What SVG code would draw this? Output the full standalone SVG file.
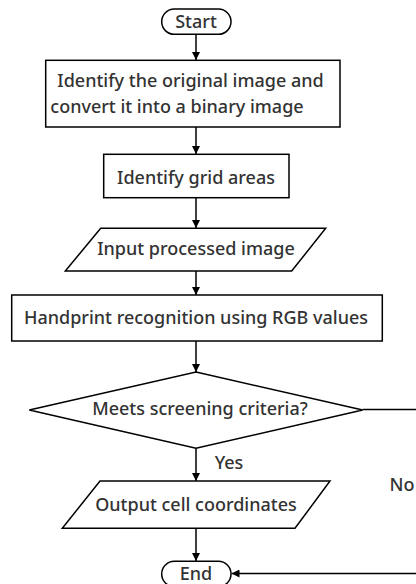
<svg xmlns="http://www.w3.org/2000/svg" width="416" height="584" viewBox="0 0 416 584">
<defs>
<marker id="arr" viewBox="0 0 10 10" refX="10" refY="5" markerWidth="8" markerHeight="8" markerUnits="userSpaceOnUse" orient="auto">
<path d="M0,0 L10,5 L0,10 z" fill="#000"/>
</marker>
<style>
.s{fill:#fff;stroke:#000;stroke-width:1.5}
.t{font-family:"Noto Sans","Open Sans",sans-serif;font-weight:500;font-size:18px;fill:#333;text-anchor:middle}
.l{fill:none;stroke:#000;stroke-width:1.5;marker-end:url(#arr)}
</style>
</defs>
<rect width="416" height="584" fill="#fff"/>
<g id="connectors">
<line class="l" x1="196" y1="34" x2="196" y2="60"/>
<line class="l" x1="196" y1="127" x2="196" y2="154"/>
<line class="l" x1="196" y1="198" x2="196" y2="228"/>
<line class="l" x1="196" y1="271" x2="196" y2="295"/>
<line class="l" x1="196" y1="341" x2="196" y2="372"/>
<line class="l" x1="196" y1="448" x2="196" y2="481"/>
<line class="l" x1="196" y1="528" x2="196" y2="561"/>
<polyline class="l" points="362.7,409.5 420,409.5 420,573.5 231.5,573.5"/>
<text class="t" x="229" y="469">Yes</text>
<text class="t" x="402" y="491">No</text>
</g>
<g id="start">
<rect class="s" x="161.7" y="9" width="69.3" height="25.3" rx="12.6"/>
<text class="t" x="196" y="28">Start</text>
</g>
<g id="identify-original">
<rect class="s" x="45.7" y="60.3" width="294.3" height="66.7"/>
<text class="t" x="190.5" y="87">Identify the original image and</text>
<text class="t" x="177" y="113">convert it into a binary image</text>
</g>
<g id="identify-grid">
<rect class="s" x="103.7" y="154.3" width="185.3" height="43.4"/>
<text class="t" x="196" y="183.5">Identify grid areas</text>
</g>
<g id="input">
<polygon class="s" points="100.7,228.3 325.7,228.3 291.7,271 65.3,271"/>
<text class="t" x="196" y="254.5">Input processed image</text>
</g>
<g id="handprint">
<rect class="s" x="11.7" y="295" width="370.6" height="46"/>
<text class="t" x="196" y="324">Handprint recognition using RGB values</text>
</g>
<g id="decision">
<polygon class="s" points="196,372 362.7,410 196,448.3 29.3,410"/>
<text class="t" x="200" y="414.5">Meets screening criteria?</text>
</g>
<g id="output">
<polygon class="s" points="100,481 330,481 295,528.3 62.3,528.3"/>
<text class="t" x="196" y="511">Output cell coordinates</text>
</g>
<g id="end">
<rect class="s" x="161.7" y="561.3" width="69.3" height="25.3" rx="12.6"/>
<text class="t" x="196" y="580">End</text>
</g>
</svg>
